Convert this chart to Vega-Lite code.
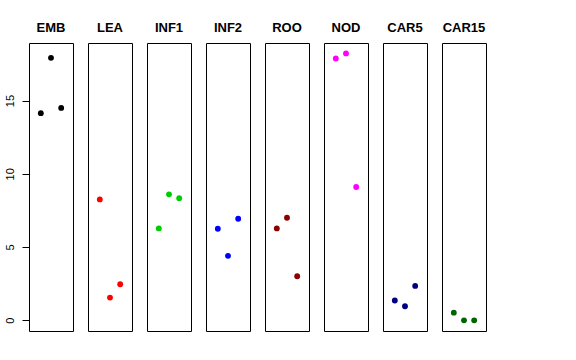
{
  "$schema": "https://vega.github.io/schema/vega-lite/v6.json",
  "padding": {"left": 3, "top": 22, "right": 0, "bottom": 0},
  "background": "white",
  "spacing": 15,
  "bounds": "flush",
  "config": {
    "font": "Liberation Sans",
    "view": {"stroke": "black", "strokeWidth": 1}
  },
  "data": {
    "values": [
      {"group": "EMB", "x": 1, "y": 14.14}, {"group": "EMB", "x": 2, "y": 17.92}, {"group": "EMB", "x": 3, "y": 14.5},
      {"group": "LEA", "x": 1, "y": 8.25}, {"group": "LEA", "x": 2, "y": 1.55}, {"group": "LEA", "x": 3, "y": 2.46},
      {"group": "INF1", "x": 1, "y": 6.27}, {"group": "INF1", "x": 2, "y": 8.6}, {"group": "INF1", "x": 3, "y": 8.34},
      {"group": "INF2", "x": 1, "y": 6.25}, {"group": "INF2", "x": 2, "y": 4.4}, {"group": "INF2", "x": 3, "y": 6.93},
      {"group": "ROO", "x": 1, "y": 6.27}, {"group": "ROO", "x": 2, "y": 7.0}, {"group": "ROO", "x": 3, "y": 3.01},
      {"group": "NOD", "x": 1, "y": 17.87}, {"group": "NOD", "x": 2, "y": 18.22}, {"group": "NOD", "x": 3, "y": 9.1},
      {"group": "CAR5", "x": 1, "y": 1.35}, {"group": "CAR5", "x": 2, "y": 0.96}, {"group": "CAR5", "x": 3, "y": 2.35},
      {"group": "CAR15", "x": 1, "y": 0.52}, {"group": "CAR15", "x": 2, "y": 0.0}, {"group": "CAR15", "x": 3, "y": 0.0}
    ]
  },
  "facet": {
    "column": {
      "field": "group",
      "type": "nominal",
      "sort": ["EMB", "LEA", "INF1", "INF2", "ROO", "NOD", "CAR5", "CAR15"],
      "header": {
        "title": null,
        "labelFontWeight": "bold",
        "labelFontSize": 13,
        "labelColor": "black",
        "labelPadding": 8
      }
    }
  },
  "spec": {
    "width": 44,
    "height": 288,
    "mark": {"type": "circle", "size": 34, "opacity": 1},
    "encoding": {
      "x": {
        "field": "x",
        "type": "quantitative",
        "scale": {"domain": [-0.16, 4.16], "nice": false, "zero": false},
        "axis": null
      },
      "y": {
        "field": "y",
        "type": "quantitative",
        "scale": {"domain": [-0.73, 18.93], "nice": false, "zero": false},
        "axis": {
          "title": null,
          "values": [0, 5, 10, 15],
          "grid": false,
          "domain": false,
          "tickColor": "black",
          "tickSize": 7,
          "labelAngle": 270,
          "labelAlign": "center",
          "labelBaseline": "bottom",
          "labelPadding": 7,
          "labelFontSize": 11,
          "labelColor": "black"
        }
      },
      "color": {
        "field": "group",
        "type": "nominal",
        "scale": {
          "domain": ["EMB", "LEA", "INF1", "INF2", "ROO", "NOD", "CAR5", "CAR15"],
          "range": ["#000000", "#FF0000", "#00CD00", "#0000FF", "#8B0000", "#FF00FF", "#000080", "#006400"]
        },
        "legend": null
      }
    }
  }
}
